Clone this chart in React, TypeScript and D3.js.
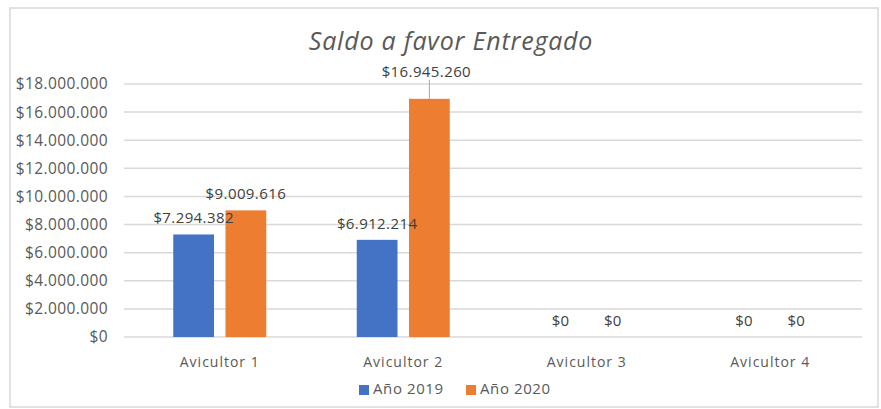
import React from "react";
import * as d3 from "d3";

const categories = ["Avicultor 1", "Avicultor 2", "Avicultor 3", "Avicultor 4"];
const seriesNames = ["Año 2019", "Año 2020"];
const values2019 = [7294382, 6912214, 0, 0];
const values2020 = [9009616, 16945260, 0, 0];
const yTicks = [0, 2000000, 4000000, 6000000, 8000000, 10000000, 12000000, 14000000, 16000000, 18000000];
const colors = ["#4472C4", "#ED7D31"];
const title = "Saldo a favor Entregado";

const fmt = (v: number) => "$" + d3.format(",")(v).replace(/,/g, ".");

export default function App() {
  const W = 881, H = 409;
  const left = 128, right = 862, top = 84, bottom = 337;
  const x0 = d3.scaleBand<string>().domain(categories).range([left, right]).padding(0);
  const groupW = 93;
  const x1 = d3.scaleBand<string>().domain(seriesNames).range([0, groupW]).paddingInner(0.22).paddingOuter(0);
  const y = d3.scaleLinear().domain([0, 18000000]).range([bottom, top]);
  const data = [values2019, values2020];
  const font = "'Open Sans', sans-serif";
  const maxV = d3.max(values2020) as number;

  const marks = categories.flatMap((c, i) => {
    const cx = (x0(c) as number) + x0.bandwidth() / 2;
    const g0 = cx - groupW / 2;
    return seriesNames.map((s, j) => {
      const v = data[j][i];
      const bx = g0 + (x1(s) as number);
      const bw = x1.bandwidth();
      return { key: c + s, j, v, bx, bw, mid: bx + bw / 2, isBig: j === 1 && v === maxV };
    });
  });

  return (
    <svg width={W} height={H} style={{ position: "absolute", left: 0, top: 0, background: "#fff" }}>
      <rect x={10} y={8} width={868} height={399} fill="#fff" stroke="#D9D9D9" strokeWidth={1.5} />
      <text x={451} y={50} textAnchor="middle" fontFamily={font} fontStyle="italic" fontSize={25} letterSpacing={0.8} fill="#595959">
        {title}
      </text>
      {yTicks.map((t) => (
        <g key={t}>
          <line x1={124} x2={right} y1={y(t)} y2={y(t)} stroke="#D9D9D9" strokeWidth={1.5} />
          <text x={108} y={y(t)} dy="0.35em" textAnchor="end" fontFamily={font} fontSize={15.5} letterSpacing={0.4} fill="#595959">
            {fmt(t)}
          </text>
        </g>
      ))}
      {marks.map((m) =>
        m.v > 0 ? (
          <rect key={"b" + m.key} x={m.bx} y={y(m.v)} width={m.bw} height={y(0) - y(m.v)} fill={colors[m.j]} />
        ) : null
      )}
      {marks.map((m) => {
        const ly = m.isBig ? y(m.v) - 22 : y(m.v) - 11;
        return (
          <g key={"l" + m.key}>
            {m.isBig && (
              <line x1={m.mid} x2={m.mid} y1={ly + 3} y2={y(m.v)} stroke="#A6A6A6" strokeWidth={1} />
            )}
            <text x={m.isBig ? m.mid - 3 : m.mid} y={ly} textAnchor="middle" fontFamily={font} fontSize={15} letterSpacing={0.4} fill="#404040">
              {fmt(m.v)}
            </text>
          </g>
        );
      })}
      {categories.map((c) => (
        <text key={c} x={(x0(c) as number) + x0.bandwidth() / 2} y={367} textAnchor="middle" fontFamily={font} fontSize={14} letterSpacing={1} fill="#595959">
          {c}
        </text>
      ))}
      {seriesNames.map((s, j) => {
        const lx = [359, 466][j];
        return (
          <g key={s}>
            <rect x={lx} y={385} width={10} height={10} fill={colors[j]} />
            <text x={lx + 14} y={394} fontFamily={font} fontSize={15} letterSpacing={0.6} fill="#595959">
              {s}
            </text>
          </g>
        );
      })}
    </svg>
  );
}
